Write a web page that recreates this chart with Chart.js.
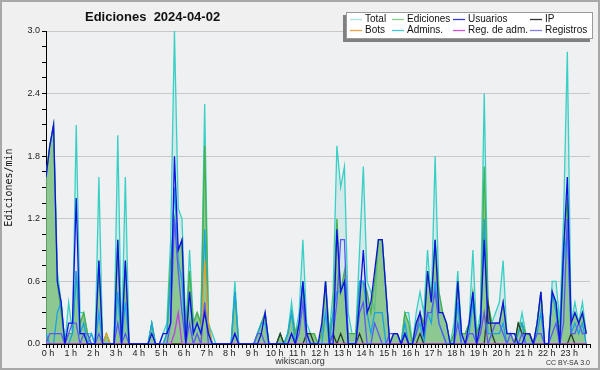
<!DOCTYPE html>
<html>
<head>
<meta charset="utf-8">
<script src="https://cdn.jsdelivr.net/npm/chart.js@4/dist/chart.umd.min.js"></script>
<style>
  html, body { margin: 0; padding: 0; background: #f0f0f0; }
  #wrap { width: 600px; height: 370px; }
</style>
</head>
<body>
<div id="wrap"><canvas id="chart" width="600" height="370"></canvas></div>
<script>
// Ediciones por minuto, intervalos de 10 min (6 por hora), 2024-04-02
const hourLabels = ['0 h','1 h','2 h','3 h','4 h','5 h','6 h','7 h','8 h','9 h','10 h','11 h',
                    '12 h','13 h','14 h','15 h','16 h','17 h','18 h','19 h','20 h','21 h','22 h','23 h'];
const yTicks = [0.0, 0.6, 1.2, 1.8, 2.4, 3.0];

const total = [
  1.6,1.9,2.1,0.7,0.4,0,   0.4,0.1,2.1,0.3,0.3,0.1,  0.1,0,1.6,0,0.1,0,      0,2.0,0,1.6,0,0,
  0,0,0,0,0.2,0,           0,0.1,0.2,1.0,3.0,1.3,    1.2,0.1,0.9,0.2,0.3,0.2,  2.3,0.2,0.1,0,0,0,
  0,0,0.6,0,0,0,           0,0,0.1,0.2,0.3,0,        0,0,0.1,0,0.1,0.4,      0.1,0.3,1.0,0.2,0.1,0.1,
  0,0.1,0.6,0.1,0.5,1.9,   1.5,1.7,0.3,0.1,0.1,0.9,  1.7,0.6,0.5,0.3,1.0,1.0,  0.5,0,0.1,0.1,0,0.3,
  0.3,0,0.3,0.5,0.3,0.9,   0.4,1.8,0.5,0.3,0.2,0,    0.2,0.7,0.1,0.1,0.2,0.9,  0.1,0.3,2.4,0.4,0.2,0.3,
  0.4,0.8,0.1,0.1,0.1,0.1, 0.3,0.1,0.1,0,0.2,0.5,    0,0,0.6,0.6,0.2,1.2,      2.8,0.2,0.4,0.2,0.4,0.1
];
const edits = [
  1.6,1.9,2.1,0.6,0.3,0,   0.1,0.1,0.7,0.2,0.3,0.1,  0,0,0.8,0,0.1,0,        0,1.0,0,0.8,0,0,
  0,0,0,0,0.2,0,           0,0,0.1,0.8,1.2,0.9,      1.0,0.1,0.7,0.2,0.3,0.2,  1.9,0.2,0,0,0,0,
  0,0,0.5,0,0,0,           0,0,0.1,0.2,0.3,0,        0,0,0.1,0,0.1,0.3,      0.1,0.2,0.6,0.1,0.1,0.1,
  0,0.1,0.6,0.1,0.3,1.2,   0.5,0.7,0.1,0.1,0.1,0.6,  0.6,0.5,0.3,0.6,1.0,1.0,  0.5,0,0.1,0.1,0,0.3,
  0.2,0,0.2,0.3,0.2,0.7,   0.4,1.0,0.5,0.3,0.2,0,    0.1,0.6,0.1,0.1,0.2,0.5,  0.1,0.2,1.7,0.4,0.2,0.2,
  0.2,0.4,0.1,0.1,0,0.2,   0.2,0.1,0.1,0,0.2,0.5,    0,0,0.5,0.4,0.1,0.9,      1.4,0.2,0.3,0.2,0.3,0.1
];
const users = [
  1.6,1.9,2.1,0.6,0.4,0,   0.2,0.2,1.4,0.1,0.1,0,    0,0,0.8,0,0,0,          0,1.0,0,0.8,0,0,
  0,0,0,0,0.1,0,           0,0.1,0.1,0.2,1.8,0.9,    1.0,0,0.5,0.1,0.2,0.1,    0.3,0.1,0,0,0,0,
  0,0,0.1,0,0,0,           0,0,0,0.1,0.3,0,          0,0,0,0,0,0.1,          0,0.2,0.6,0.1,0,0,
  0,0.2,0.6,0,0,1.1,       0.5,0.6,0,0,0,0.4,        0.9,0.3,0.4,0.7,1.0,1.0,  0.5,0,0.1,0.1,0,0.1,
  0,0,0.2,0.3,0.1,0.7,     0.4,1.0,0.3,0.3,0.2,0,    0,0.6,0.1,0,0.2,0.5,      0,0.2,1.0,0.2,0.2,0.2,
  0.2,0.4,0.1,0.1,0.1,0,   0,0.1,0.1,0,0.2,0.5,      0,0,0.5,0.4,0,0.9,        1.6,0.2,0.3,0.2,0.3,0.1
];
const ip = [
  0,0,0,0,0,0,  0,0,0,0,0,0,  0,0,0,0,0,0,  0,0,0,0,0,0,
  0,0,0,0,0,0,  0,0,0,0,0,0,  0,0,0,0,0,0,  0,0,0,0,0,0,
  0,0,0,0,0,0,  0,0,0,0,0,0,  0,0,0.1,0,0,0,  0,0,0,0.1,0.1,0,
  0,0,0,0,0.1,0,  0.1,0,0,0,0,0.1,  0,0,0,0,0,0,  0,0,0,0,0,0.1,
  0,0,0,0.1,0,0,  0,0,0,0,0,0,  0,0,0,0,0,0,  0,0,0,0.4,0.1,0,
  0,0,0,0,0,0.2,  0.1,0.1,0.1,0,0,0,  0,0,0,0,0,0,  0,0.1,0,0,0,0
];
const bots = [
  0,0,0,0,0,0,  0,0,0,0,0,0,  0,0,0,0,0.1,0,  0,0,0,0,0,0,
  0,0,0,0,0,0,  0,0,0,0,0,0,  0,0,0,0,0,0,  0.8,0.2,0,0,0,0,
  0,0,0,0,0,0,  0,0,0,0,0,0,  0,0,0,0,0,0,  0,0,0,0,0,0,
  0,0,0,0,0,0,  0,0,0,0,0,0,  0,0,0,0,0,0,  0,0,0,0,0,0,
  0,0,0,0,0,0,  0,0,0,0,0,0,  0,0,0,0,0,0,  0,0.1,0.3,0,0,0,
  0,0,0,0,0,0,  0,0,0,0,0,0,  0,0,0,0,0,0,  0,0,0,0,0,0
];
const admins = [
  0.1,0,0,0.3,0.4,0,       0,0.1,0.7,0.1,0.2,0,      0.1,0,0.3,0,0,0,        0,0.5,0,0.4,0,0,
  0,0,0,0,0.2,0,           0,0,0.1,0.6,1.5,0.8,      0.6,0,0.5,0.1,0.2,0.1,  1.1,0.1,0,0,0,0,
  0,0,0.5,0,0,0,           0,0,0.1,0.2,0.2,0,        0,0,0,0,0.1,0.3,        0,0.2,0.6,0.1,0,0,
  0,0,0.3,0,0.3,0.5,       0.5,0.6,0,0,0,0.6,        0.6,0.3,0.1,0.3,0.3,0.3,  0,0,0,0,0,0.2,
  0,0,0.1,0.2,0,0.3,       0.2,0.6,0.2,0.1,0,0,      0,0.4,0,0,0.1,0.4,      0,0.1,1.2,0.1,0.1,0.1,
  0.1,0.2,0,0,0,0.1,       0.2,0,0,0,0.1,0.3,        0,0,0.5,0.3,0,0.8,      1.1,0.1,0.2,0.1,0.2,0
];
const admLogs = [
  0,0,0,0,0,0,  0,0,0,0,0,0,  0,0,0,0,0,0,  0,0,0,0,0,0,
  0,0,0,0,0,0,  0,0,0,0,0.1,0.3,  0,0,0,0,0,0,  0,0,0,0,0,0,
  0,0,0,0,0,0,  0,0,0,0,0,0,  0,0,0,0,0,0,  0,0,0,0,0,0,
  0,0,0,0,0,0,  0,0,0,0,0,0,  0,0,0,0,0,0,  0,0,0,0,0,0,
  0,0,0,0,0,0,  0,0,0,0,0,0,  0,0,0,0,0,0,  0,0,0,0,0,0,
  0,0,0,0,0,0,  0,0,0,0,0,0,  0,0,0,0,0,0,  0,0,0,0,0,0
];
const logs = [
  0,0.1,0.1,0.1,0.1,0,     0.1,0.2,0.2,0,0.1,0.1,    0,0,0.1,0,0,0,          0,0.2,0,0.1,0,0,
  0,0,0,0,0,0,             0,0,0,0.2,1.2,0.7,        0.3,0,0.2,0,0.1,0,      0.4,0,0,0,0,0,
  0,0,0.1,0,0,0,           0,0,0.1,0.1,0,0,          0,0,0,0,0,0.1,          0,0.1,0.4,0,0,0,
  0,0,0,0,0.1,0.4,         1.0,1.0,0,0,0,0.3,        0.4,0,0,0.2,0.1,0,      0,0.1,0.1,0.1,0,0.1,
  0,0,0.1,0.3,0.1,0.3,     0.3,0.5,0.2,0.1,0,0,      0,0.2,0,0,0.1,0.1,      0,0.1,0.3,0,0.1,0.2,
  0.2,0.1,0,0.1,0,0,       0.1,0,0,0,0.1,0.1,        0,0,0.1,0.2,0,0.2,      1.2,0.1,0.1,0.2,0.1,0.1
];

function pts(arr) {
  return arr.map((v, i) => ({ x: i, y: v }));
}

function line(label, arr, color, legendColor, extra) {
  return Object.assign({
    label: label,
    data: pts(arr),
    borderColor: color,
    legendColor: legendColor,
    borderWidth: 1.3,
    pointRadius: 0,
    tension: 0,
    fill: false
  }, extra || {});
}

// el primero se dibuja encima
const datasets = [
  line('Usuarios', users, '#1010e0', '#3838e0'),
  line('Registros', logs, '#5a5af2', '#8080f0'),
  line('Reg. de adm.', admLogs, '#c040e0', '#d050e0'),
  line('IP', ip, '#2a3a2a', '#303030'),
  line('Bots', bots, '#e8a020', '#f0a040'),
  line('Admins.', admins, '#18a4e4', '#40c8e0'),
  line('Ediciones', edits, '#48b048', '#88cc88', { fill: 'origin', backgroundColor: 'rgba(112,186,112,0.72)' }),
  line('Total', total, '#38d0c4', '#a8e4dc', { fill: 'origin', backgroundColor: 'rgba(170,222,222,0.35)' })
];
const legendOrder = ['Total', 'Ediciones', 'Usuarios', 'IP', 'Bots', 'Admins.', 'Reg. de adm.', 'Registros'];

function isMajor(v) {
  return yTicks.some(t => Math.abs(t - v) < 1e-6);
}

const decor = {
  id: 'decor',
  beforeDraw(chart) {
    const c = chart.ctx;
    const a = chart.chartArea;
    c.save();
    c.fillStyle = '#f0f0f0';
    c.fillRect(0, 0, chart.width, chart.height);
    c.fillStyle = '#eef0f2';
    c.fillRect(a.left, a.top, a.right - a.left, a.bottom - a.top);
    c.restore();
  },
  afterDraw(chart) {
    const c = chart.ctx;
    c.save();
    // titulo
    c.fillStyle = '#111';
    c.font = 'bold 13px "Liberation Sans", sans-serif';
    c.textBaseline = 'alphabetic';
    c.textAlign = 'left';
    c.fillText('Ediciones  2024-04-02', 85, 21);

    // leyenda con sombra
    c.fillStyle = '#808080';
    c.fillRect(343, 15, 247, 27);
    c.fillStyle = '#ffffff';
    c.fillRect(346, 12, 247, 27);
    c.strokeStyle = '#9a9a9a';
    c.lineWidth = 1;
    c.strokeRect(346.5, 12.5, 246, 26);
    const cols = [350, 392, 453, 530];
    const rows = [19, 30];
    c.font = '10px "Liberation Sans", sans-serif';
    c.textBaseline = 'middle';
    legendOrder.forEach((name, k) => {
      const ds = chart.data.datasets.find(d => d.label === name);
      const x = cols[k % 4];
      const y = rows[Math.floor(k / 4)];
      c.strokeStyle = ds.legendColor;
      c.lineWidth = 1.3;
      c.beginPath();
      c.moveTo(x, y + 0.5);
      c.lineTo(x + 12, y + 0.5);
      c.stroke();
      c.fillStyle = '#111';
      c.fillText(name, x + 15, y);
    });

    // pie
    c.textBaseline = 'alphabetic';
    c.fillStyle = '#333';
    c.font = '9px "Liberation Sans", sans-serif';
    c.textAlign = 'center';
    c.fillText('wikiscan.org', 300, 364);
    c.textAlign = 'right';
    c.font = '7px "Liberation Sans", sans-serif';
    c.fillText('CC BY-SA 3.0', 590, 365);

    // marco
    c.strokeStyle = '#a8a8a8';
    c.lineWidth = 2;
    c.strokeRect(1, 1, chart.width - 2, chart.height - 2);
    c.restore();
  }
};

const ctx = document.getElementById('chart').getContext('2d');
const chart = new Chart(ctx, {
  type: 'line',
  data: { datasets: datasets },
  plugins: [decor],
  options: {
    responsive: false,
    animation: false,
    devicePixelRatio: 1,
    layout: { padding: { top: 31, right: 10, bottom: 10, left: 0 } },
    plugins: {
      legend: { display: false },
      title: { display: false },
      tooltip: { enabled: false }
    },
    scales: {
      x: {
        type: 'linear',
        min: 0,
        max: 144,
        afterFit: s => { s.height = 16; },
        border: { display: true, color: '#000', width: 1 },
        grid: { drawOnChartArea: false, color: '#000', tickColor: '#000', tickLength: 4 },
        ticks: {
          stepSize: 1,
          autoSkip: false,
          maxTicksLimit: 200,
          maxRotation: 0,
          padding: 0,
          labelOffset: 2,
          color: '#222',
          font: { size: 9, family: '"Liberation Sans", sans-serif' },
          callback: v => (v % 6 === 0 && v < 144) ? hourLabels[v / 6] : ''
        }
      },
      y: {
        min: 0,
        max: 3,
        afterFit: s => { s.width = 46; },
        border: { display: true, color: '#000', width: 1 },
        grid: {
          color: c => (c.tick && isMajor(c.tick.value)) ? '#c8c8c8' : 'rgba(0,0,0,0)',
          tickColor: '#000',
          tickLength: 4
        },
        title: {
          display: true,
          text: 'Ediciones/min',
          color: '#111',
          padding: { top: 3, bottom: 0 },
          font: { size: 10, family: '"DejaVu Sans Mono", monospace' }
        },
        ticks: {
          stepSize: 0.15,
          autoSkip: false,
          maxTicksLimit: 100,
          padding: 2,
          color: '#222',
          font: { size: 9, family: '"Liberation Sans", sans-serif' },
          callback: v => isMajor(v) ? v.toFixed(1) : ''
        }
      }
    }
  }
});
</script>
</body>
</html>
